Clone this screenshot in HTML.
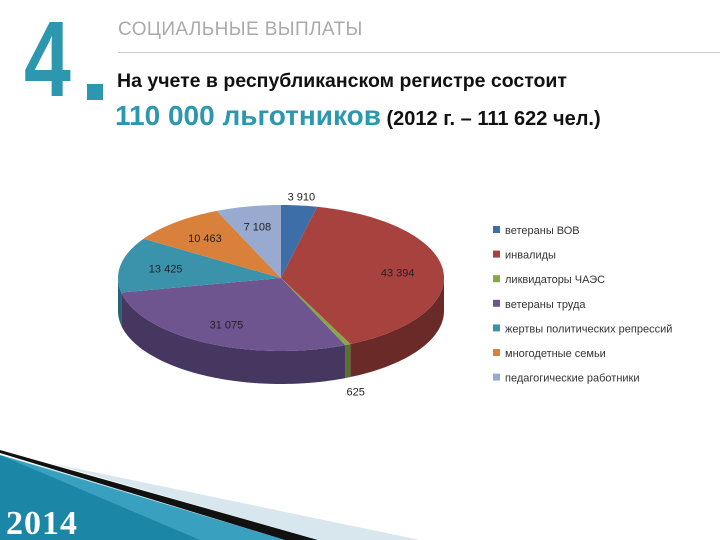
<!DOCTYPE html>
<html><head><meta charset="utf-8"><style>
body{margin:0;width:720px;height:540px;overflow:hidden;background:#fff;font-family:"Liberation Sans",sans-serif;position:relative}
.abs{position:absolute;margin:0}
</style></head><body>
<div class="abs" style="left:24px;top:4px;font-family:'Liberation Sans',sans-serif;font-size:108px;font-weight:bold;color:#2e97b0;transform:scaleX(0.78);transform-origin:left top;line-height:110px">4</div>
<div class="abs" style="left:87px;top:84px;width:16px;height:16px;background:#2e97b0"></div>
<div class="abs" style="left:118px;top:19px;font-size:19px;letter-spacing:0.4px;color:#aaa;white-space:nowrap">СОЦИАЛЬНЫЕ ВЫПЛАТЫ</div>
<div class="abs" style="left:118px;top:52px;width:602px;height:1px;background:#ccc"></div>
<div class="abs" style="left:117px;top:70px;font-size:19.5px;font-weight:bold;color:#111;white-space:nowrap">На учете в республиканском регистре состоит</div>
<div class="abs" style="left:115px;top:100px;white-space:nowrap;color:#111;font-size:20px;font-weight:bold"><span style="color:#2e97b0;font-size:28px">110 000 льготников</span> (2012 г. – 111 622 чел.)</div>

<svg class="abs" style="left:0;top:0" width="720" height="540">
<g id="sides"></g><g id="tops"></g><g id="labels"></g><g id="legend"></g>
<g>
<polygon points="0,455 0,540 285,540" fill="#1b86a6"/>
<polygon points="0,455 60,472 285,540 200,540" fill="#4fb3d2" opacity="0.6"/>
<polygon points="0,453 285,540 318,540 0,450" fill="#111"/>
<polygon points="50,463 420,540 318,540" fill="#d8e6ee"/>
</g>
<text x="6" y="534" font-family="Liberation Serif,serif" font-weight="bold" font-size="34" letter-spacing="1" fill="#fff">2014</text>
</svg>
<script>
const categories=["ветераны ВОВ","инвалиды","ликвидаторы ЧАЭС","ветераны труда","жертвы политических репрессий","многодетные семьи","педагогические работники"];
const values=[3910,43394,625,31075,13425,10463,7108];
const valueLabels=["3 910","43 394","625","31 075","13 425","10 463","7 108"];
const colors=["#3e6ea8","#a8423f","#86a845","#6e5590","#3b93ab","#d9813a","#98aad0"];
const sideColors=["#2b4e78","#6a2a28","#557030","#463760","#286375","#8f5526","#66728c"];
const cx=281,cy=278,rx=163,ry=73,depth=33,NS="http://www.w3.org/2000/svg";
const total=values.reduce((a,b)=>a+b,0);
function pt(t,dy){return [cx+rx*Math.sin(t),cy-ry*Math.cos(t)+(dy||0)];}
function arc(a,b,dy){let s="";const n=Math.max(2,Math.ceil(Math.abs(b-a)/0.02));for(let i=0;i<=n;i++){const p=pt(a+(b-a)*i/n,dy);s+=(i?"L":"")+p[0].toFixed(2)+","+p[1].toFixed(2);}return s;}
const sides=document.getElementById('sides'),tops=document.getElementById('tops'),labels=document.getElementById('labels'),legend=document.getElementById('legend');
let acc=0;
values.forEach((v,i)=>{
 const a=acc/total*2*Math.PI;acc+=v;const b=acc/total*2*Math.PI;
 const sa=Math.max(a,Math.PI/2),sb=Math.min(b,3*Math.PI/2);
 if(sb>sa){const side=document.createElementNS(NS,'path');
  side.setAttribute('d','M'+arc(sa,sb,0)+'L'+arc(sb,sa,depth)+'Z');
  side.setAttribute('fill',sideColors[i]);
  
  
  sides.appendChild(side);}
 const top=document.createElementNS(NS,'path');
 top.setAttribute('d','M'+cx+','+cy+'L'+arc(a,b,0)+'Z');
 top.setAttribute('fill',colors[i]);
 
 
 tops.appendChild(top);
 const m=(a+b)/2,small=v/total<0.05;
 const f=small?1.12:0.72;let lx=cx+rx*f*Math.sin(m),ly=cy-ry*f*Math.cos(m)+4;
 if(small&&Math.cos(m)<0)ly+=depth+6;
 const t=document.createElementNS(NS,'text');
 t.setAttribute('x',lx);t.setAttribute('y',ly);t.setAttribute('text-anchor','middle');
 t.setAttribute('font-size','11');t.setAttribute('fill','#222');t.setAttribute('font-family','Liberation Sans Narrow, Liberation Sans, sans-serif');
 t.textContent=valueLabels[i];
 
 
 labels.appendChild(t);
 const ly2=230+i*24.6;
 const sq=document.createElementNS(NS,'rect');
 sq.setAttribute('x',493);sq.setAttribute('y',ly2-4);sq.setAttribute('width',7);sq.setAttribute('height',7);sq.setAttribute('fill',colors[i]);
 
 
 legend.appendChild(sq);
 const lt=document.createElementNS(NS,'text');
 lt.setAttribute('x',505);lt.setAttribute('y',ly2+4);lt.setAttribute('font-size','11');lt.setAttribute('fill','#333');lt.setAttribute('font-family','Liberation Sans Narrow, Liberation Sans, sans-serif');
 lt.textContent=categories[i];
 
 
 legend.appendChild(lt);
});
</script>
</body></html>
